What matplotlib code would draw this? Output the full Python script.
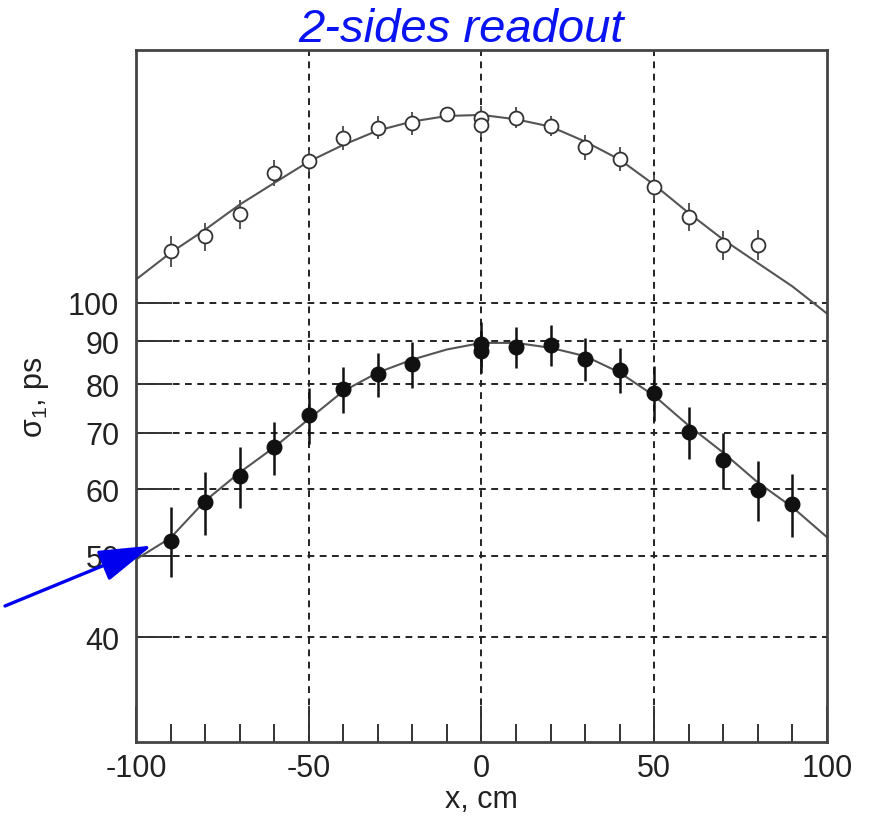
import numpy as np
import matplotlib
matplotlib.use('Agg')
import matplotlib.pyplot as plt
from matplotlib.ticker import FixedLocator, NullLocator, NullFormatter

plt.rcParams['font.family'] = ['Liberation Sans', 'DejaVu Sans']
plt.rcParams['mathtext.fontset'] = 'custom'
plt.rcParams['mathtext.rm'] = 'Liberation Sans'

# filled points (lower set)
x_fill = [-90, -80, -70, -60, -50, -40, -30, -20, 0, 0, 10, 20, 30, 40, 50, 60, 70, 80, 90]
y_fill = [52.1, 57.9, 62.2, 67.3, 73.5, 78.9, 82.2, 84.5, 89.4, 87.6, 88.7, 89.2, 85.8, 83.2, 78.2, 70.1, 65.0, 59.9, 57.6]
e_fill = [5.0, 5.0, 5.2, 4.9, 5.6, 5.0, 5.0, 5.4, 5.5, 5.0, 5.0, 5.0, 5.1, 5.1, 5.8, 5.0, 5.0, 4.9, 5.0]

# open points (upper set)
x_open = [-90, -80, -70, -60, -50, -40, -30, -20, -10, 0, 0, 10, 20, 30, 40, 50, 60, 70, 80]
y_open = [115.2, 120.0, 127.6, 142.7, 147.7, 157.3, 161.7, 163.7, 167.7, 166.0, 163.0, 166.2, 162.5, 153.2, 148.4, 137.3, 126.5, 117.1, 117.3]
e_open = [4.8, 4.6, 5.0, 5.1, 4.4, 5.3, 5.1, 5.1, 3.1, 5.6, 5.6, 4.7, 4.5, 5.1, 4.9, 4.6, 4.9, 4.6, 4.9]

# fit curves every 10 cm
x_fit = [-100, -90, -80, -70, -60, -50, -40, -30, -20, -10, 0, 10, 20, 30, 40, 50, 60, 70, 80, 90, 100]
fit_low = [49.5, 52.5, 58.1, 62.8, 67.3, 72.7, 78.5, 82.6, 85.6, 88.0, 89.6,
           89.6, 88.4, 86.4, 82.6, 77.5, 71.4, 66.3, 61.1, 57.1, 52.6]
fit_up = [106.6, 114.7, 122.2, 130.9, 138.9, 147.3, 154.2, 160.4, 164.4, 166.9, 167.4,
          165.4, 162.1, 155.6, 148.1, 138.2, 127.9, 118.9, 111.5, 104.6, 97.1]

y_ticks = [40, 50, 60, 70, 80, 90, 100]
x_ticks = [-100, -50, 0, 50, 100]
x_minor = [-90, -80, -70, -60, -40, -30, -20, -10, 10, 20, 30, 40, 60, 70, 80, 90]

fig = plt.figure(figsize=(8.7, 8.2), dpi=100)
ax = fig.add_axes([136 / 870, 1 - 743 / 820, (827 - 136) / 870, (743 - 51) / 820])
ax.set_yscale('log')
ax.set_xlim(-100, 100)
ax.set_ylim(30, 200)

# grid
for yv in y_ticks:
    ax.axhline(yv, color='#222222', lw=1.4, ls=(0, (3.5, 2.8)), zorder=1)
for xv in [-50, 0, 50]:
    ax.axvline(xv, color='#222222', lw=1.4, ls=(0, (3.5, 2.8)), zorder=1)

ax.plot(x_fit, fit_low, color='#555555', lw=1.5, zorder=2)
ax.plot(x_fit, fit_up, color='#555555', lw=1.5, zorder=2)

ax.errorbar(x_fill, y_fill, yerr=e_fill, fmt='o', ms=10.5, color='#111111',
            ecolor='#111111', elinewidth=1.8, capsize=0, zorder=3)
ax.errorbar(x_open, y_open, yerr=e_open, fmt='o', ms=10, mfc='white', mec='#333333',
            mew=1.3, ecolor='#555555', elinewidth=1.4, capsize=0, zorder=3)

ax.yaxis.set_major_locator(FixedLocator(y_ticks))
ax.yaxis.set_minor_locator(NullLocator())
ax.yaxis.set_minor_formatter(NullFormatter())
ax.set_yticklabels([str(v) for v in y_ticks])
ax.xaxis.set_major_locator(FixedLocator(x_ticks))
ax.xaxis.set_minor_locator(FixedLocator(x_minor))
ax.set_xticklabels([str(v) for v in x_ticks])

ax.tick_params(axis='both', which='major', direction='in', length=26, width=1.4,
               color='#333333', labelsize=22, labelcolor='#222222')
ax.tick_params(axis='y', which='major', pad=12)
ax.tick_params(axis='x', which='major', pad=8)
ax.tick_params(axis='x', which='minor', direction='in', length=13, width=1.4, color='#333333')

for sp in ax.spines.values():
    sp.set_color('#444444')
    sp.set_linewidth(2)

ax.set_xlabel('x, cm', fontsize=22, color='#222222', labelpad=1)
ax.set_ylabel(r'$\mathregular{σ_1}$, ps', fontsize=22, color='#222222', labelpad=12)

fig.text(461 / 870, 1 - 30 / 820, '2-sides readout', color='#0a14f0', fontsize=34,
         style='italic', ha='center', va='center')

ax.annotate('', xy=(-95.4, 51.4), xycoords='data',
            xytext=(5, 820 - 607), textcoords='figure pixels',
            arrowprops=dict(arrowstyle='-|>,head_length=3.3,head_width=1.0',
                            mutation_scale=10, color='#0000ee', lw=2.4,
                            shrinkA=0, shrinkB=0),
            annotation_clip=False, zorder=5)

fig.savefig('out.png', dpi=100)
